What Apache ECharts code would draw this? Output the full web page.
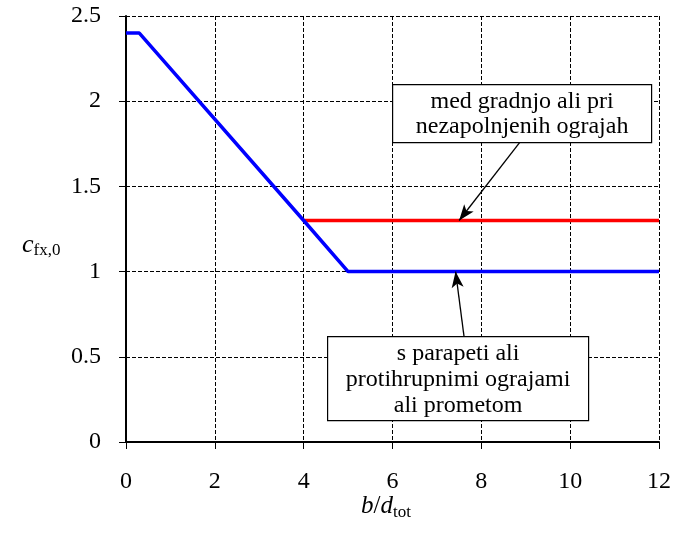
<!DOCTYPE html>
<html><head><meta charset="utf-8">
<script src="https://cdn.jsdelivr.net/npm/echarts@6/dist/echarts.min.js"></script>
<style>html,body{margin:0;padding:0;background:#fff}#c{width:674px;height:536px}</style>
</head><body><div id="c"></div>
<script>
const blueX = [0, 0.3, 4, 5, 12];
const blueY = [2.4, 2.4, 1.3, 1.0, 1.0];
const redX = [4, 12];
const redY = [1.3, 1.3];
const xTicks = [0, 2, 4, 6, 8, 10, 12];
const yTicks = [0, 0.5, 1, 1.5, 2, 2.5];
const topBoxLines = ['med gradnjo ali pri', 'nezapolnjenih ograjah'];
const botBoxLines = ['s parapeti ali', 'protihrupnimi ograjami', 'ali prometom'];
const topArrow = [[8.87, 1.76], [7.5, 1.3]];
const botArrow = [[7.61, 0.62], [7.42, 1.0]];

const FONT = '"Liberation Serif", "Times New Roman", serif';
const chart = echarts.init(document.getElementById('c'), null, {renderer: 'canvas'});
const pair = (xs, ys) => xs.map((x, i) => [x, ys[i]]);
const arrowLine = (a) => ({
  silent: true, symbol: ['none', 'arrow'], symbolSize: [9, 16],
  lineStyle: {color: '#000', width: 1.3, type: 'solid'}, label: {show: false},
  data: [[{coord: a[0]}, {coord: a[1]}]]
});
const box = (left, top, w, h, lines, lh) => ({
  type: 'group', left: left, top: top, z: 100, children: [
    {type: 'rect', z: 100, shape: {x: 0, y: 0, width: w, height: h}, style: {fill: '#fff', stroke: '#000', lineWidth: 1.2}},
    {type: 'text', z: 101, style: {x: w / 2, y: h / 2 + 1, text: lines.join('\n'), fill: '#000', font: '24px ' + FONT, align: 'center', verticalAlign: 'middle', lineHeight: lh}}
  ]
});
chart.setOption({
  animation: false,
  grid: {left: 126, right: 15, top: 16, bottom: 94, containLabel: false},
  xAxis: {
    type: 'value', min: xTicks[0], max: xTicks[xTicks.length - 1], interval: 2,
    axisLine: {show: true, onZero: false, lineStyle: {color: '#000', width: 2}},
    axisTick: {show: true, inside: false, length: 7, lineStyle: {color: '#000', width: 1}},
    axisLabel: {color: '#000', fontFamily: FONT, fontSize: 24, margin: 28},
    splitLine: {show: true, lineStyle: {color: '#000', type: [4, 2], width: 1}}
  },
  yAxis: {
    type: 'value', min: yTicks[0], max: yTicks[yTicks.length - 1], interval: 0.5,
    axisLine: {show: true, onZero: false, lineStyle: {color: '#000', width: 2}},
    axisTick: {show: true, inside: false, length: 7, lineStyle: {color: '#000', width: 1}},
    axisLabel: {color: '#000', fontFamily: FONT, fontSize: 24, margin: 25},
    splitLine: {show: true, lineStyle: {color: '#000', type: [4, 2], width: 1}}
  },
  series: [
    {type: 'line', data: pair(blueX, blueY), showSymbol: false, lineStyle: {color: '#0000ff', width: 3.5}, z: 3},
    {type: 'line', data: pair(redX, redY), showSymbol: false, lineStyle: {color: '#ff0000', width: 3.5}, z: 2,
      markLine: arrowLine(topArrow)},
    {type: 'line', data: [], showSymbol: false, markLine: arrowLine(botArrow)}
  ],
  graphic: [
    box(392, 84, 259, 58, topBoxLines, 25),
    box(327, 336, 261, 84, botBoxLines, 26),
    {type: 'text', left: 22, top: 232, style: {
      text: '{i|c}{s|fx,0}', rich: {
        i: {fontFamily: FONT, fontStyle: 'italic', fontSize: 26, fill: '#000', height: 26},
        s: {fontFamily: FONT, fontSize: 17, fill: '#000', padding: [12, 0, 0, 0]}
      }}},
    {type: 'text', left: 361, top: 494, style: {
      text: '{i|b}{n|/}{i|d}{s|tot}', rich: {
        i: {fontFamily: FONT, fontStyle: 'italic', fontSize: 25, fill: '#000', height: 25},
        n: {fontFamily: FONT, fontSize: 25, fill: '#000', height: 25},
        s: {fontFamily: FONT, fontSize: 17, fill: '#000', padding: [12, 0, 0, 0]}
      }}}
  ]
});
</script></body></html>
